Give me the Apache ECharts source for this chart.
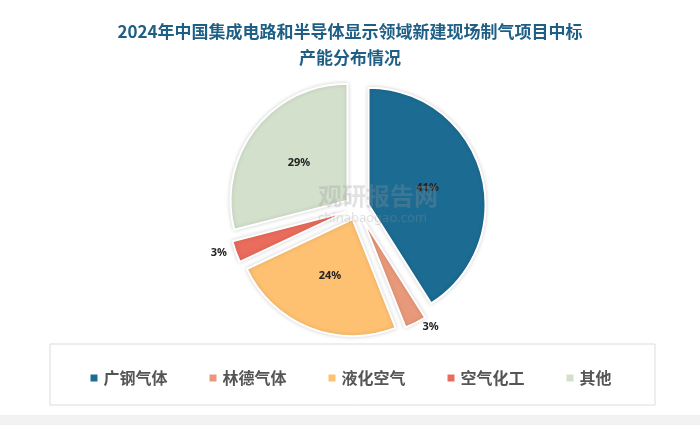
<!DOCTYPE html>
<html>
<head>
<meta charset="utf-8">
<script src="https://cdn.jsdelivr.net/npm/echarts@6/dist/echarts.min.js"></script>
<style>
  html, body { margin: 0; padding: 0; background: #f4f4f4; }
  #chart { width: 700px; height: 425px; }
</style>
</head>
<body>
<div id="chart"></div>
<script>
const categories = ["广钢气体", "林德气体", "液化空气", "空气化工", "其他"];
const shares = [41, 3, 24, 3, 29];
const colors = ["#1c6b92", "#e8997a", "#fec171", "#e96c5c", "#d2e0cc"];
const insideLabel = [true, false, true, false, true];

const chart = echarts.init(document.getElementById("chart"));

const pieData = categories.map((name, i) => ({
  name,
  value: shares[i],
  selected: true,
  itemStyle: { color: colors[i] },
  label: insideLabel[i]
    ? { position: "inside" }
    : { position: "outside" },
  labelLine: { show: false, length: 4, length2: 0 },
}));

chart.setOption({
  backgroundColor: "#ffffff",
  title: {
    text: "2024年中国集成电路和半导体显示领域新建现场制气项目中标\n产能分布情况",
    left: "center",
    top: 14,
    textStyle: { color: "#1f5f86", fontSize: 17, fontWeight: "bold", lineHeight: 26, fontFamily: "Noto Sans CJK SC" },
  },
  graphic: [
    {
      type: "rect",
      shape: { x: 50, y: 344, width: 605, height: 61 },
      style: { fill: "none", stroke: "#dcdcdc", lineWidth: 1 },
    },
    {
      type: "rect",
      shape: { x: 0, y: 415, width: 700, height: 10 },
      style: { fill: "#f2f2f2" },
    },
    {
      type: "text",
      left: 318,
      top: 184,
      style: { text: "观研报告网", fill: "rgba(150,150,150,0.28)", font: "bold 24px 'Noto Sans CJK SC'" },
      z: 10,
    },
    {
      type: "text",
      left: 318,
      top: 212,
      style: { text: "chinabaogao.com", fill: "rgba(150,150,150,0.28)", font: "13px 'Noto Sans'" },
      z: 10,
    },
  ],
  legend: {
    data: categories,
    top: 365,
    left: "center",
    itemGap: 40,
    itemWidth: 9,
    itemHeight: 9,
    icon: "rect",
    textStyle: { color: "#555", fontSize: 16, fontWeight: "bold", fontFamily: "Noto Sans CJK SC" },
  },
  series: [
    {
      type: "pie",
      center: [357, 208],
      radius: [0, 117],
      startAngle: 90,
      selectedMode: "multiple",
      selectedOffset: 12,
      label: {
        formatter: "{c}%",
        color: "#222",
        fontSize: 11,
        fontWeight: "bold",
        fontFamily: "Noto Sans",
      },
      itemStyle: { borderColor: "#ffffff", borderWidth: 2, shadowBlur: 4, shadowColor: "rgba(0,0,0,0.15)" },
      data: pieData,
    },
  ],
});
</script>
</body>
</html>
